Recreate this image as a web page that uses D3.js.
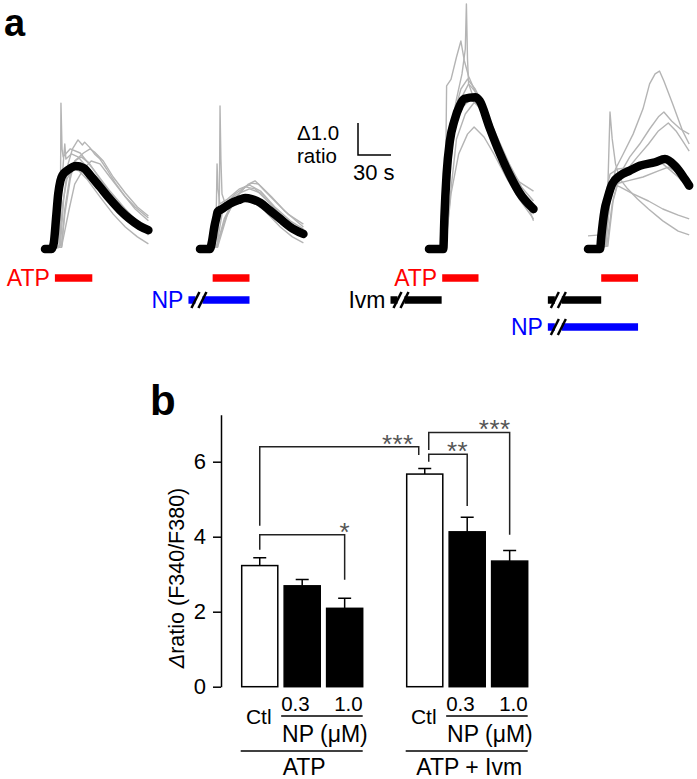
<!DOCTYPE html>
<html>
<head>
<meta charset="utf-8">
<script src="https://cdn.jsdelivr.net/npm/d3@7"></script>
<style>
  body { margin: 0; background: #fff; }
  svg { display: block; font-family: "Liberation Sans", Arial, sans-serif; }
</style>
</head>
<body>
<svg width="697" height="779"></svg>
<script>
// ---------- panel a : single-cell traces, [time (s), delta ratio] ----------
const meanATP = [[0,0],[6,0],[8,.19],[10,.94],[12,1.72],[14,2.13],[16,2.31],[21,2.47],[28,2.59],[35,2.53],[41,2.31],[50,1.94],[59,1.56],[68,1.22],[77,.94],[86,.72],[94,.59]];
const grayATP = [
  [[0,0],[13,.06],[14,1.25],[14.5,4.56],[15.5,3.13],[16.5,2.88],[23,3.13],[32,3.0],[45,2.44],[59,1.81],[73,1.25],[86,.78],[94,.56]],
  [[0,0],[14,.1],[17,1.56],[21,2.66],[25,3.13],[30,3.41],[34,3.25],[36,3.34],[41,3.16],[45,2.97],[50,2.81],[56,2.5],[64,2.06],[73,1.63],[82,1.31],[94,.97]],
  [[0,0],[15,.06],[18,1.25],[23,2.34],[27,2.75],[35,3.0],[41,3.13],[45,3.03],[53,2.75],[62,2.25],[73,1.75],[84,1.31],[94,1.03]],
  [[0,0],[13,.09],[16,1.41],[20,2.19],[25,2.5],[31,2.44],[38,2.19],[50,1.63],[62,1.09],[73,.69],[84,.38],[94,.16]],
  [[0,0],[15,.06],[18,1.09],[23,2.19],[27,2.75],[33,2.88],[40,2.69],[50,2.19],[62,1.63],[73,1.19],[84,.81],[94,.56]],
  [[0,0],[15,.06],[22,1.25],[27,2.03],[35,2.5],[42,2.75],[50,2.66],[59,2.25],[71,1.72],[82,1.25],[94,.88]],
  [[0,0],[13,.09],[15,1.88],[17,2.88],[18,3.28],[19,2.81],[24,2.97],[30,2.88],[38,2.56],[50,2.0],[64,1.41],[77,.94],[94,.44]]
];

const meanNP = [[0,0],[9,0],[11,.25],[13,.69],[15,1.0],[16,1.16],[20,1.25],[27,1.41],[35,1.53],[41,1.59],[47,1.56],[55,1.44],[64,1.19],[73,.94],[82,.69],[94,.47]];
const grayNP = [
  [[0,0],[16,.06],[17.7,1.88],[18.2,4.47],[19,2.81],[20,1.72],[23,1.41],[32,1.72],[41,1.94],[50,1.88],[64,1.41],[77,.94],[94,.38]],
  [[0,0],[14,.06],[15,1.56],[15.5,2.66],[16.4,1.88],[18,1.41],[25,1.56],[36,1.88],[45,2.0],[55,1.81],[68,1.31],[82,.88],[94,.63]],
  [[0,0],[15,.06],[23,.94],[32,1.56],[41,1.94],[47,2.06],[53,2.03],[59,1.81],[68,1.5],[80,1.09],[94,.78]],
  [[0,0],[16,.06],[25,1.09],[35,1.72],[44,2.03],[50,2.13],[56,1.94],[65,1.63],[77,1.19],[94,.69]],
  [[0,0],[15,.06],[22,.94],[29,1.41],[38,1.56],[47,1.5],[59,1.19],[73,.69],[84,.38],[94,.19]],
  [[0,0],[15,.06],[20,1.09],[27,1.56],[36,1.75],[45,1.88],[55,1.75],[65,1.38],[77,.94],[94,.44]]
];

const meanIvm = [[0,0],[13,0],[14,.99],[16,2.34],[19,3.38],[23,4.0],[28,4.48],[32,4.69],[42,4.74],[46,4.63],[55,3.8],[64,3.02],[73,2.34],[82,1.77],[95,1.25]];
const grayIvm = [
  [[0,0],[14,.06],[16,2.5],[20,3.75],[25,4.69],[30,5.47],[33,6.25],[34,7.66],[35,5.94],[36,5.16],[41,4.69],[47,4.38],[55,3.75],[64,2.97],[75,2.19],[86,1.56],[95,1.19]],
  [[0,0],[14,.06],[15,1.88],[16,5.1],[20,5.3],[25,6.0],[29,6.5],[32,5.9],[36,5.4],[41,5.0],[50,4.2],[59,3.44],[71,2.66],[82,2.1],[95,1.81]],
  [[0,0],[15,.06],[18,2.19],[23,3.75],[29,4.69],[36,5.16],[44,4.84],[53,4.06],[64,3.13],[75,2.34],[85,1.72],[95,1.31]],
  [[0,0],[15,.06],[20,1.72],[27,2.97],[35,3.59],[41,3.81],[50,3.5],[59,2.97],[71,2.19],[82,1.56],[95,.94]],
  [[0,0],[14,.06],[17,2.5],[23,3.91],[29,4.38],[38,4.69],[47,4.38],[56,3.69],[68,2.81],[80,2.03],[95,1.09]],
  [[0,0],[15,.06],[20,1.88],[25,3.44],[33,4.22],[40,4.53],[45,4.69],[53,4.22],[62,3.44],[73,2.56],[84,1.88],[95,.88]],
  [[0,0],[15,.06],[19,2.81],[24,4.38],[29,5.0],[35,5.31],[42,5.0],[51,4.38],[62,3.5],[73,2.66],[84,1.94],[95,1.5]]
];

const meanIvmNP = [[0,0],[11,0],[12,.36],[15,1.2],[18,1.61],[22,2.03],[29,2.29],[38,2.45],[47,2.6],[61,2.71],[70,2.81],[79,2.6],[88,2.19],[92,1.98]];
const grayIvmNP = [
  [[0,0],[16,.16],[18,1.88],[20,4.28],[22,3.44],[25,2.66],[29,2.19],[36,1.88],[45,1.56],[55,1.25],[68,.88],[82,.56],[92,.44]],
  [[0,0],[16,.09],[20,1.56],[25,2.5],[32,2.97],[41,3.59],[50,4.38],[56,5.16],[61,5.47],[65,5.56],[69,5.25],[77,4.53],[86,3.69],[92,3.28]],
  [[0,0],[18,.09],[23,1.56],[29,2.34],[38,2.88],[47,3.28],[56,3.75],[64,4.13],[69,4.28],[76,4.0],[84,3.75],[92,3.59]],
  [[0,0],[17,.09],[22,1.41],[27,2.03],[36,2.5],[45,2.88],[55,3.28],[64,3.69],[73,3.94],[80,3.69],[86,3.38],[92,3.06]],
  [[0,0],[16,.16],[20,1.56],[25,2.03],[36,2.13],[50,2.25],[64,2.44],[73,2.56],[82,2.38],[92,2.19]],
  [[0,0],[15,.16],[18,1.72],[23,2.03],[29,1.94],[41,1.72],[55,1.5],[68,1.25],[82,1.06],[92,.94]],
  [[0,.41],[11,.44],[15,1.56],[20,2.34],[27,2.5],[41,2.56],[55,2.75],[68,2.66],[82,2.25],[92,1.88]]
];

// drug applications (s, relative to trace start); cut = long pre-incubation shown with a break
const stimATP   = [{name:"ATP", on:9, off:43, label:true}];
const stimNP    = [{name:"ATP", on:11.5, off:45, label:false}, {name:"NP", on:-10.5, off:45, cut:true, label:true}];
const stimIvm   = [{name:"ATP", on:12, off:45, label:true}, {name:"Ivm", on:-35, off:11.5, cut:true, label:true}];
const stimIvmNP = [{name:"ATP", on:12, off:45.5, label:false}, {name:"Ivm", on:-36.5, off:12, cut:true, label:false}, {name:"NP", on:-36.5, off:45.5, cut:true, label:true}];

// ---------- panel b : peak delta ratio, mean +/- SEM ----------
const groups = ["ATP", "ATP + Ivm"];
const conds = ["Ctl", "0.3", "1.0"];
const means = [[3.23, 2.69, 2.09], [5.67, 4.13, 3.35]];
const sems  = [[0.21, 0.17, 0.27], [0.15, 0.39, 0.28]];
const yTicks = [0, 2, 4, 6];
// significance brackets: bar a vs bar b, bracket level and leg ends in ratio units
const comparisons = [
  {a:[0,0], b:[0,2], label:"*",   level:4.05, aEnd:3.65, bEnd:2.85},
  {a:[0,0], b:[1,0], label:"***", level:6.40, aEnd:4.29, bEnd:6.18},
  {a:[1,0], b:[1,1], label:"**",  level:6.20, aEnd:6.00, bEnd:4.82},
  {a:[1,0], b:[1,2], label:"***", level:6.78, aEnd:6.31, bEnd:4.05}
];

const svg = d3.select("svg");
const drugColor = {ATP:"#ff0000", NP:"#0000ff", Ivm:"#000000"};

// panel letters
svg.append("text").attr("x", 4).attr("y", 36).attr("font-size", 38).attr("font-weight", "bold").text("a");
svg.append("text").attr("x", 150).attr("y", 415).attr("font-size", 42).attr("font-weight", "bold").text("b");

// ---------- draw traces ----------
const pxPerSec = 1.1, pxPerRatio = 32, traceBase = 249;
const panels = [
  {x0: 45,  mean: meanATP,   gray: grayATP,   stim: stimATP},
  {x0: 200, mean: meanNP,    gray: grayNP,    stim: stimNP},
  {x0: 429, mean: meanIvm,   gray: grayIvm,   stim: stimIvm},
  {x0: 588, mean: meanIvmNP, gray: grayIvmNP, stim: stimIvmNP}
];
const rowY = [278, 300, 327];

panels.forEach(p => {
  const xs = d3.scaleLinear().domain([0, 100]).range([p.x0, p.x0 + 100 * pxPerSec]);
  const ys = d3.scaleLinear().domain([0, 8]).range([traceBase, traceBase - 8 * pxPerRatio]);
  const g = svg.append("g");

  const grayLine = d3.line().x(d => xs(d[0])).y(d => ys(d[1]));
  g.selectAll(".gray").data(p.gray).enter().append("path")
    .attr("d", grayLine)
    .attr("fill", "none").attr("stroke", "#b4b4b4").attr("stroke-width", 1.4)
    .attr("stroke-linejoin", "round");

  const meanLine = d3.line().x(d => xs(d[0])).y(d => ys(d[1])).curve(d3.curveMonotoneX);
  g.append("path").datum(p.mean)
    .attr("d", meanLine)
    .attr("fill", "none").attr("stroke", "#000").attr("stroke-width", 8.5)
    .attr("stroke-linecap", "round").attr("stroke-linejoin", "round");

  p.stim.forEach((s, i) => {
    const y = rowY[i], col = drugColor[s.name];
    const x1 = xs(s.on), x2 = xs(s.off);
    if (s.cut) {
      g.append("line").attr("x1", x1).attr("x2", x1 + 7).attr("y1", y).attr("y2", y)
        .attr("stroke", col).attr("stroke-width", 7.5);
      g.append("line").attr("x1", x1 + 14).attr("x2", x2).attr("y1", y).attr("y2", y)
        .attr("stroke", col).attr("stroke-width", 7.5);
      [7, 14].forEach(dx => {
        g.append("line").attr("x1", x1 + dx - 4).attr("y1", y + 8).attr("x2", x1 + dx + 4).attr("y2", y - 8)
          .attr("stroke", "#000").attr("stroke-width", 2.5);
      });
    } else {
      g.append("line").attr("x1", x1).attr("x2", x2).attr("y1", y).attr("y2", y)
        .attr("stroke", col).attr("stroke-width", 7.5);
    }
    if (s.label) {
      g.append("text").attr("x", x1 - 5).attr("y", y + 8)
        .attr("text-anchor", "end").attr("font-size", 23).attr("fill", col).text(s.name);
    }
  });
});

// scale bar: 1.0 ratio, 30 s
const sbX = d3.scaleLinear().domain([0, 30]).range([358, 358 + 30 * pxPerSec]);
const sbY = d3.scaleLinear().domain([0, 1]).range([155, 155 - pxPerRatio]);
svg.append("path")
  .attr("d", `M${sbX(0)},${sbY(1)}V${sbY(0)}H${sbX(30)}`)
  .attr("fill", "none").attr("stroke", "#000").attr("stroke-width", 1.5);
svg.append("text").attr("x", 297).attr("y", 139.5).attr("font-size", 20.5).text("\u03941.0");
svg.append("text").attr("x", 297).attr("y", 162.5).attr("font-size", 20.5).text("ratio");
svg.append("text").attr("x", 353).attr("y", 180).attr("font-size", 22).text("30 s");

// ---------- bar chart ----------
const y = d3.scaleLinear().domain([0, 7.25]).range([686.7, 686.7 - 7.25 * 37.5]);
const x0 = d3.scaleBand().domain(groups).range([241.7, 527.7]).paddingInner(44 / 165);
const x1 = d3.scaleBand().domain(conds).range([0, x0.bandwidth()]).paddingInner(0.15);
const barL = (gi, ci) => x0(groups[gi]) + x1(conds[ci]);
const barC = (gi, ci) => barL(gi, ci) + x1.bandwidth() / 2;

const yAxis = svg.append("g").attr("transform", "translate(221,0)")
  .call(d3.axisLeft(y).tickValues(yTicks).tickFormat(d3.format("d")).tickSize(8).tickPadding(7).tickSizeOuter(0));
yAxis.select(".domain").attr("stroke-width", 1.5);
yAxis.selectAll(".tick line").attr("stroke-width", 1.5);
yAxis.selectAll(".tick text").attr("font-size", 22).attr("font-family", "Liberation Sans, Arial, sans-serif").attr("fill", "#000");

const yl = svg.append("text").attr("transform", "translate(184,578) rotate(-90)")
  .attr("text-anchor", "middle").attr("font-size", 21.5);
yl.append("tspan").attr("font-style", "italic").text("\u0394");
yl.append("tspan").text("ratio (F340/F380)");

const barData = [];
means.forEach((row, gi) => row.forEach((m, ci) => barData.push({gi, ci, m, s: sems[gi][ci]})));

svg.selectAll(".err").data(barData).enter().append("path")
  .attr("d", d => {
    const cx = barC(d.gi, d.ci);
    return `M${cx},${y(d.m)}V${y(d.m + d.s)}M${cx - 6.5},${y(d.m + d.s)}H${cx + 6.5}`;
  })
  .attr("fill", "none").attr("stroke", "#000").attr("stroke-width", 1.5);

svg.selectAll(".bar").data(barData).enter().append("rect")
  .attr("x", d => barL(d.gi, d.ci))
  .attr("y", d => y(d.m))
  .attr("width", x1.bandwidth())
  .attr("height", d => y(0) - y(d.m))
  .attr("fill", d => d.ci === 0 ? "#fff" : "#000")
  .attr("stroke", "#000").attr("stroke-width", 1.5);

// brackets
const legX = (bar, side) => {
  let cx = barC(bar[0], bar[1]);
  if (bar[0] === 1 && bar[1] === 0) cx += side === "right" ? -6 : 4;
  return cx;
};
comparisons.forEach(c => {
  const xa = legX(c.a, "left"), xb = legX(c.b, "right");
  svg.append("path")
    .attr("d", `M${xa},${y(c.aEnd)}V${y(c.level)}H${xb}V${y(c.bEnd)}`)
    .attr("fill", "none").attr("stroke", "#222").attr("stroke-width", 1.5);
  const single = c.label.length === 1;
  const tx = single ? xb : (c.a[0] !== c.b[0] ? xb - 5 : xb + 1);
  svg.append("text")
    .attr("x", tx).attr("y", y(c.level) + 6)
    .attr("text-anchor", single ? "middle" : "end")
    .attr("font-size", 26).attr("letter-spacing", single ? 0 : 0.5)
    .attr("fill", "#555").text(c.label);
});

// x labels
groups.forEach((gname, gi) => {
  const l1 = barL(gi, 0), l2 = barL(gi, 1) - 3, r3 = barL(gi, 2) + x1.bandwidth();
  svg.append("text").attr("x", barC(gi, 0) - 1).attr("y", 723.5).attr("text-anchor", "middle")
    .attr("font-size", 21).text(conds[0]);
  svg.append("text").attr("x", l2).attr("y", 711).attr("font-size", 20.5).text(conds[1]);
  svg.append("text").attr("x", r3).attr("y", 711).attr("text-anchor", "end").attr("font-size", 20.5).text(conds[2]);
  svg.append("line").attr("x1", l2).attr("x2", r3).attr("y1", 716).attr("y2", 716)
    .attr("stroke", "#000").attr("stroke-width", 1.5);
  svg.append("text").attr("x", (l2 + r3) / 2 + 3).attr("y", 741.5).attr("text-anchor", "middle")
    .attr("font-size", 23).text("NP (\u03bcM)");
  svg.append("line").attr("x1", l1 - 1).attr("x2", r3).attr("y1", 751).attr("y2", 751)
    .attr("stroke", "#000").attr("stroke-width", 1.5);
  svg.append("text").attr("x", (l1 + r3) / 2 + 2).attr("y", 775).attr("text-anchor", "middle")
    .attr("font-size", 23).text(gname);
});
</script>
</body>
</html>
